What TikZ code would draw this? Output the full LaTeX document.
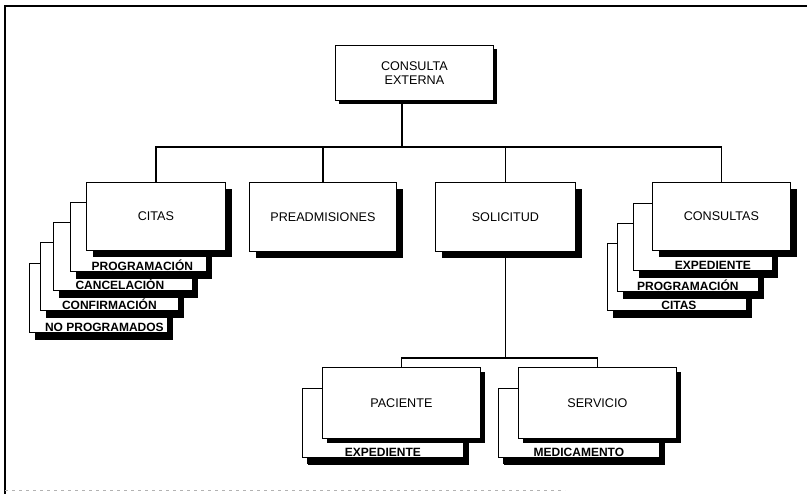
\documentclass[tikz,border=0pt]{standalone}
\usepackage{fontspec}
\setmainfont{Liberation Sans}
\usetikzlibrary{shadows}
\newcommand{\boxfont}{\fontsize{12.6}{13.5}\selectfont}
\newcommand{\tabfont}{\fontsize{12}{13}\selectfont\bfseries}

\begin{document}
\begin{tikzpicture}[x=1pt,y=-1pt,
  card/.style={draw, line width=0.8pt, fill=white, inner sep=0pt,
    anchor=north west, align=center, font=\boxfont},
  shade/.style 2 args={drop shadow={shadow xshift=#1pt, shadow yshift=-#2pt,
    fill=black, opacity=1}},
  unit/.style={card, shade={7}{7}},
  sheet/.style={card, shade={6}{8}},
  tab/.style={anchor=south, inner sep=1pt, font=\tabfont},
  wire/.style={line width=1.2pt},
  frame/.style={line width=1.3pt}
]
\useasboundingbox (0,0) rectangle (807,494);

% outer frame
\draw[frame] (807,6) -- (5,6) -- (5,494);
\draw[black!30, line width=0.6pt, dash pattern=on 3pt off 4pt] (5,490) -- (565,490);

% root
\node[card, shade={4}{4}, minimum width=158pt, minimum height=55pt] (root) at (335,45)
  {CONSULTA\\EXTERNA};

% citas with its stacked sheets
\node[sheet, minimum width=138pt, minimum height=69pt,
  label={[tab, xshift=6pt]south:NO PROGRAMADOS}] (cn4) at (29,263) {};
\node[sheet, minimum width=138pt, minimum height=68pt,
  label={[tab]south:CONFIRMACIÓN}] (cn3) at (40,242) {};
\node[sheet, minimum width=139pt, minimum height=68pt,
  label={[tab, xshift=-3pt]south:CANCELACIÓN}] (cn2) at (53,222) {};
\node[sheet, minimum width=136pt, minimum height=69pt,
  label={[tab, xshift=4pt]south:PROGRAMACIÓN}] (cn1) at (70,202) {};
\node[unit, minimum width=139pt, minimum height=68pt] (citas) at (86,182) {CITAS};

% preadmisiones and solicitud
\node[unit, minimum width=147pt, minimum height=69pt] (pre) at (249,182) {PREADMISIONES};
\node[unit, minimum width=140pt, minimum height=69pt] (sol) at (435,182) {SOLICITUD};

% consultas with its stacked sheets
\node[sheet, minimum width=139pt, minimum height=67pt,
  label={[tab, xshift=2pt]south:CITAS}] (cs3) at (607,243) {};
\node[sheet, minimum width=141pt, minimum height=68pt,
  label={[tab]south:PROGRAMACIÓN}] (cs2) at (617,223) {};
\node[sheet, minimum width=139pt, minimum height=67pt,
  label={[tab, xshift=10pt]south:EXPEDIENTE}] (cs1) at (633,203) {};
\node[unit, minimum width=138pt, minimum height=68pt] (cons) at (652,182) {CONSULTAS};

% paciente and servicio
\node[sheet, shade={5}{7}, minimum width=161pt, minimum height=69pt,
  label={[tab]south:EXPEDIENTE}] (pe1) at (302,388) {};
\node[card, shade={5}{5}, minimum width=158pt, minimum height=71pt] (pac) at (322,367) {PACIENTE};
\node[sheet, shade={5}{7}, minimum width=161pt, minimum height=69pt,
  label={[tab]south:MEDICAMENTO}] (se1) at (498,388) {};
\node[card, shade={5}{5}, minimum width=158pt, minimum height=71pt] (serv) at (518,367) {SERVICIO};

% connectors
\coordinate (hub) at (402,147);
\coordinate (sub) at (504,358);
\draw[wire] (hub |- root.south) -- (hub);
\draw[wire] (citas.north) -- (citas.north |- hub) -- (cons.north |- hub) -- (cons.north);
\draw[wire] (pre.north) -- (pre.north |- hub);
\draw[wire] (sol.north) -- (sol.north |- hub);
\draw[wire] (sol.south) -- (sol.south |- sub);
\draw[wire] (pac.north) |- (serv.north |- sub) -- (serv.north);
\end{tikzpicture}
\end{document}
